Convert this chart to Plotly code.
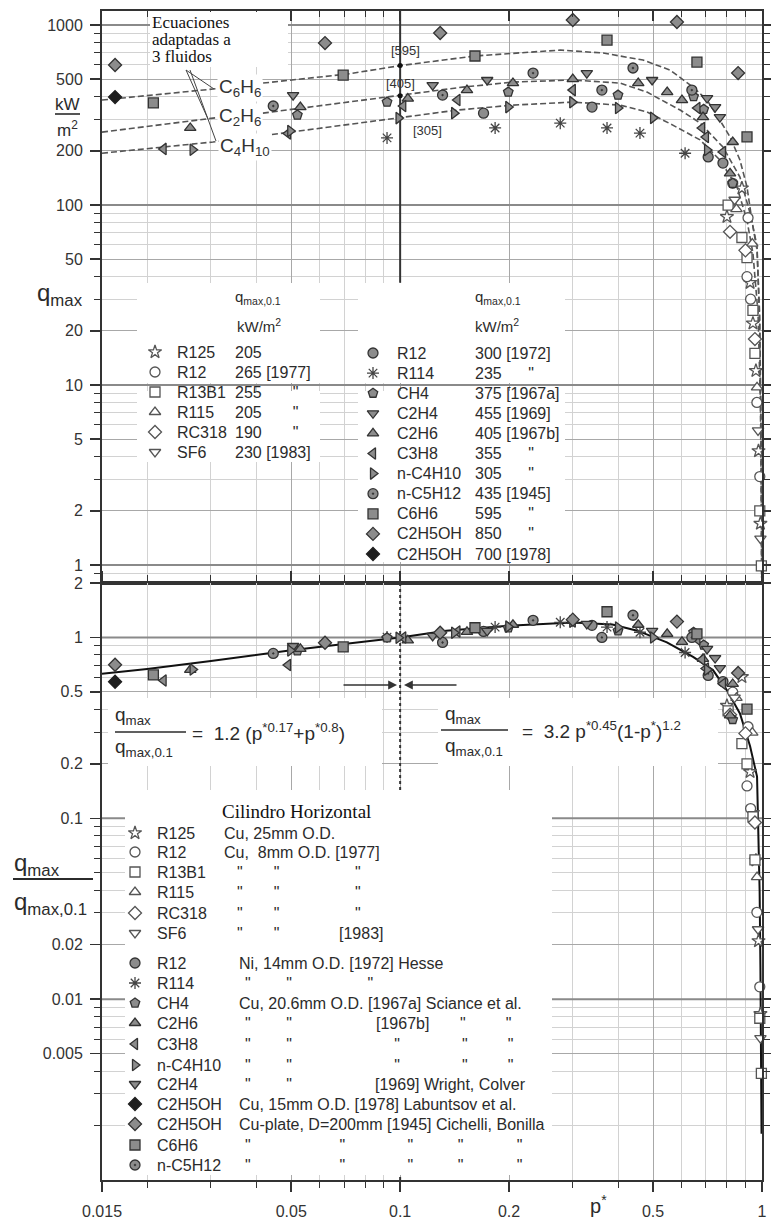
import plotly.graph_objects as go

FIG_W, FIG_H = 771, 1219
SANS = "Liberation Sans, Arial, sans-serif"
SERIF = "Liberation Serif, Times New Roman, serif"
INK = "#2b2b2b"
GRAYFILL = "#8c8c8c"

# ------------------------------------------------------------------ data
# reduced pressure p* and critical heat flux q_max (kW/m2)
P_R125 = [0.80, 0.88, 0.927, 0.944, 0.962, 0.978, 0.99]
Q_R125 = [86, 124, 37, 22, 12, 4.3, 1.7]
P_R12_77 = [0.83, 0.909, 0.915, 0.93, 0.968, 0.986]
Q_R12_77 = [132, 40, 85, 30, 8.0, 3.1]
P_R13B1 = [0.806, 0.88, 0.909, 0.944, 0.956, 0.986, 0.996]
Q_R13B1 = [100, 66, 51, 26, 15, 2.0, 0.99]
P_R115 = [0.85, 0.94, 0.969]
Q_R115 = [95, 61, 9.7]
P_RC318 = [0.816, 0.90, 0.956]
Q_RC318 = [71, 56, 18]
P_SF6 = [0.84, 0.975, 0.99]
Q_SF6 = [107, 5.6, 1.4]
P_R12_72 = [0.17, 0.339, 0.71, 0.78]
Q_R12_72 = [324, 350, 185, 171]
P_R114 = [0.092, 0.183, 0.277, 0.373, 0.46, 0.613]
Q_R114 = [236, 268, 285, 268, 251, 194]
P_CH4 = [0.052, 0.092, 0.199, 0.40, 0.647, 0.69, 0.83]
Q_CH4 = [316, 373, 424, 408, 400, 340, 132]
P_C2H4 = [0.0506, 0.123, 0.174, 0.328, 0.497, 0.705, 0.742, 0.765]
Q_C2H4 = [408, 464, 495, 541, 495, 393, 350, 308]
P_C2H6 = [0.0263, 0.053, 0.105, 0.153, 0.205, 0.30, 0.455, 0.547, 0.601, 0.687, 0.816, 0.83]
Q_C2H6 = [268, 350, 390, 435, 476, 501, 476, 424, 383, 308, 150, 224]
P_C3H8 = [0.0222, 0.049, 0.102, 0.144, 0.30, 0.663, 0.683, 0.70, 0.78]
Q_C3H8 = [205, 250, 355, 383, 435, 346, 268, 239, 197]
P_C4H10 = [0.0267, 0.0497, 0.099, 0.141, 0.199, 0.299, 0.40, 0.50, 0.705]
Q_C4H10 = [203, 258, 304, 324, 350, 373, 346, 305, 202]
P_C5H12 = [0.0446, 0.131, 0.233, 0.361, 0.44, 0.64]
Q_C5H12 = [355, 408, 541, 435, 577, 435]
P_C6H6 = [0.0208, 0.0696, 0.161, 0.373, 0.661, 0.909]
Q_C6H6 = [369, 527, 673, 825, 623, 239]
P_ETOH_45 = [0.0163, 0.062, 0.129, 0.30, 0.582, 0.859]
Q_ETOH_45 = [600, 794, 903, 1066, 1040, 541]
P_ETOH_78 = [0.0163]
Q_ETOH_78 = [398]

# q_max at p* = 0.1 (kW/m2) used for the normalised lower panel
QREF = {"R125": 205, "R12_77": 265, "R13B1": 255, "R115": 205, "RC318": 190, "SF6": 230,
        "R12_72": 300, "R114": 235, "CH4": 375, "C2H4": 455, "C2H6": 405, "C3H8": 355,
        "C4H10": 305, "C5H12": 435, "C6H6": 595, "ETOH_45": 850, "ETOH_78": 700}

# dashed equations adapted to 3 fluids (upper panel)
P_FIT_C6H6 = [0.015, 0.0304, 0.0418, 0.0714, 0.1, 0.161, 0.277, 0.364, 0.469, 0.557, 0.645,
              0.705, 0.765, 0.816, 0.869, 0.909, 0.938, 0.969, 0.985, 0.995, 0.9985]
Q_FIT_C6H6 = [383, 441, 476, 534, 595, 673, 726, 699, 639, 562, 452,
              383, 296, 239, 178, 126, 82, 56, 25, 5, 0.85]
P_FIT_C2H6 = [0.015, 0.0304, 0.0418, 0.1, 0.149, 0.205, 0.30, 0.405, 0.481, 0.594, 0.674,
              0.78, 0.869, 0.927, 0.969, 0.985, 0.995, 0.998]
Q_FIT_C2H6 = [254, 304, 324, 405, 452, 482, 495, 476, 424, 337, 286,
              210, 143, 90, 59, 22, 4, 0.85]
P_FIT_C4H10 = [0.015, 0.0304, 0.0497, 0.1, 0.144, 0.205, 0.30, 0.405, 0.481, 0.567, 0.674,
               0.765, 0.853, 0.909, 0.944, 0.975, 0.99, 0.996, 0.998]
Q_FIT_C4H10 = [194, 224, 254, 305, 337, 359, 373, 359, 329, 278, 230,
               178, 126, 82, 54, 25, 8, 2, 0.85]
P_REF = [0.1, 0.1, 0.1]
Q_REF = [595, 405, 305]
REF_LABELS = ["[595]", "[405]", "[305]"]

# generalised correlation (lower panel)
P_CORR_LOW = [0.015, 0.02, 0.03, 0.05, 0.07, 0.1]
R_CORR_LOW = [0.63, 0.67, 0.74, 0.85, 0.92, 1.0]
P_CORR_HIGH = [0.1, 0.134, 0.199, 0.30, 0.386, 0.452, 0.546, 0.645, 0.732, 0.80, 0.869,
               0.927, 0.969, 0.978, 0.985, 0.99, 0.994, 0.997]
R_CORR_HIGH = [1.0, 1.09, 1.16, 1.21, 1.18, 1.09, 0.94, 0.78, 0.66, 0.51, 0.38,
               0.25, 0.17, 0.09, 0.04, 0.015, 0.006, 0.0018]

X_TICKS = [0.015, 0.05, 0.1, 0.2, 0.5, 1]
X_TICKTEXT = ["0.015", "0.05", "0.1", "0.2", "0.5", "1"]
X_MINOR = [0.02, 0.03, 0.04, 0.06, 0.07, 0.08, 0.09, 0.3, 0.4, 0.6, 0.7, 0.8, 0.9]
Y1_TICKS = [1, 2, 5, 10, 20, 50, 100, 200, 500, 1000]
Y1_MINOR = [0.9, 3, 4, 6, 7, 8, 9, 30, 40, 60, 70, 80, 90, 300, 400, 600, 700, 800, 900]
Y1_DECADES = [1, 10, 100, 1000]
Y2_TICKS = [0.005, 0.01, 0.02, 0.1, 0.2, 0.5, 1, 2]
Y2_TICKTEXT = ["0.005", "0.01", "0.02", "0.1", "0.2", "0.5", "1", "2"]
Y2_MINOR = [0.002, 0.003, 0.004, 0.006, 0.007, 0.008, 0.009, 0.03, 0.04, 0.05, 0.06, 0.07,
            0.08, 0.09, 0.3, 0.4, 0.6, 0.7, 0.8, 0.9]
Y2_DECADES = [0.01, 0.1, 1]

# legend texts
LEG_TL_KEYS = ["R125", "R12_77", "R13B1", "R115", "RC318", "SF6"]
LEG_TL_NAMES = ["R125", "R12", "R13B1", "R115", "RC318", "SF6"]
LEG_TL_VALUES = ["205", "265 [1977]", "255", "205", "190", "230 [1983]"]
LEG_TL_DITTO = [False, False, True, True, True, False]
LEG_TR_KEYS = ["R12_72", "R114", "CH4", "C2H4", "C2H6", "C3H8", "C4H10", "C5H12", "C6H6",
               "ETOH_45", "ETOH_78"]
LEG_TR_NAMES = ["R12", "R114", "CH4", "C2H4", "C2H6", "C3H8", "n-C4H10", "n-C5H12", "C6H6",
                "C2H5OH", "C2H5OH"]
LEG_TR_VALUES = ["300 [1972]", "235", "375 [1967a]", "455 [1969]", "405 [1967b]", "355", "305",
                 "435 [1945]", "595", "850", "700 [1978]"]
LEG_TR_DITTO = [False, True, False, False, False, True, True, False, True, True, False]
LEG_B_KEYS = ["R125", "R12_77", "R13B1", "R115", "RC318", "SF6",
              "R12_72", "R114", "CH4", "C2H6", "C3H8", "C4H10", "C2H4", "ETOH_78", "ETOH_45",
              "C6H6", "C5H12"]
LEG_B_NAMES = ["R125", "R12", "R13B1", "R115", "RC318", "SF6",
               "R12", "R114", "CH4", "C2H6", "C3H8", "n-C4H10", "C2H4", "C2H5OH", "C2H5OH",
               "C6H6", "n-C5H12"]
LEG_B_TEXT = [(222, "Cu, 25mm O.D."), (222, "Cu,  8mm O.D. [1977]"), None, None, None,
              (337, "[1983]"),
              (237, "Ni, 14mm O.D. [1972] Hesse"), None,
              (237, "Cu, 20.6mm O.D. [1967a] Sciance et al."), (374, "[1967b]"), None, None,
              (373, "[1969] Wright, Colver"), (237, "Cu, 15mm O.D. [1978] Labuntsov et al."),
              (237, "Cu-plate, D=200mm [1945] Cichelli, Bonilla"), None, None]
LEG_B_DITTO = [[], [], [[235, 272, 352]], [[235, 272, 352]], [[235, 272, 352]], [[235, 272]],
               [], [[243, 285, 365]], [], [[243, 285], [458, 505]],
               [[243, 285, 392, 458, 505]], [[243, 285, 392, 458, 505]], [[243, 285]], [], [],
               [[243, 337, 407, 458, 515]], [[243, 337, 407, 458, 515]]]
NOTE_LINES = ["Ecuaciones", "adaptadas a", "3 fluidos"]

# ------------------------------------------------------------------ styles
OPEN = dict(fill="white", edge="#555555")
GRAY = dict(fill=GRAYFILL, edge="#333333")
STYLE = {
    "R125": dict(symbol="star", **OPEN), "R12_77": dict(symbol="circle", **OPEN),
    "R13B1": dict(symbol="square", **OPEN), "R115": dict(symbol="triangle-up", **OPEN),
    "RC318": dict(symbol="diamond", **OPEN), "SF6": dict(symbol="triangle-down", **OPEN),
    "R12_72": dict(symbol="circle", **GRAY), "R114": dict(symbol="asterisk-open", fill="#444", edge="#444"),
    "CH4": dict(symbol="pentagon", **GRAY), "C2H4": dict(symbol="triangle-down", **GRAY),
    "C2H6": dict(symbol="triangle-up", **GRAY), "C3H8": dict(symbol="triangle-left", **GRAY),
    "C4H10": dict(symbol="triangle-right", **GRAY), "C5H12": dict(symbol="circle-dot", **GRAY),
    "C6H6": dict(symbol="square", **GRAY), "ETOH_45": dict(symbol="diamond", **GRAY),
    "ETOH_78": dict(symbol="diamond", fill="#1e1e1e", edge="#1e1e1e"),
}
DATA = {
    "R125": (P_R125, Q_R125), "R12_77": (P_R12_77, Q_R12_77), "R13B1": (P_R13B1, Q_R13B1),
    "R115": (P_R115, Q_R115), "RC318": (P_RC318, Q_RC318), "SF6": (P_SF6, Q_SF6),
    "R12_72": (P_R12_72, Q_R12_72), "R114": (P_R114, Q_R114), "CH4": (P_CH4, Q_CH4),
    "C2H4": (P_C2H4, Q_C2H4), "C2H6": (P_C2H6, Q_C2H6), "C3H8": (P_C3H8, Q_C3H8),
    "C4H10": (P_C4H10, Q_C4H10), "C5H12": (P_C5H12, Q_C5H12), "C6H6": (P_C6H6, Q_C6H6),
    "ETOH_45": (P_ETOH_45, Q_ETOH_45), "ETOH_78": (P_ETOH_78, Q_ETOH_78),
}

fig = go.Figure()

def line_trace(x, y, xa, ya, color, width, dash=None):
    return go.Scatter(x=x, y=y, xaxis=xa, yaxis=ya, mode="lines",
                      line=dict(color=color, width=width, dash=dash),
                      hoverinfo="skip", showlegend=False, cliponaxis=False)

def hlines(values, x0, x1):
    xs, ys = [], []
    for v in values:
        xs += [x0, x1, None]
        ys += [v, v, None]
    return xs, ys

# ---- upper panel
xs, ys = hlines(Y1_DECADES, X_TICKS[0], X_TICKS[-1])
fig.add_trace(line_trace(xs, ys, "x", "y", "#8a8a8a", 2))
fig.add_trace(line_trace([0.1, 0.1], [37, 1250], "x", "y", "#333", 2))
for px, qy in [(P_FIT_C6H6, Q_FIT_C6H6), (P_FIT_C2H6, Q_FIT_C2H6), (P_FIT_C4H10, Q_FIT_C4H10)]:
    fig.add_trace(line_trace(px, qy, "x", "y", "#555", 1.6, dash="6px,3px"))
fig.add_trace(go.Scatter(x=P_REF, y=Q_REF, xaxis="x", yaxis="y", mode="markers",
                         marker=dict(size=5, color="#111"), hoverinfo="skip", showlegend=False))

# ---- lower panel
xs, ys = hlines(Y2_DECADES, X_TICKS[0], X_TICKS[-1])
fig.add_trace(line_trace(xs, ys, "x2", "y2", "#8a8a8a", 2))
fig.add_trace(line_trace([0.1, 0.1], [0.001, 2], "x2", "y2", "#333", 2, dash="dot"))
fig.add_trace(line_trace(P_CORR_LOW, R_CORR_LOW, "x2", "y2", "#111", 2))
fig.add_trace(line_trace(P_CORR_HIGH, R_CORR_HIGH, "x2", "y2", "#111", 2))

# ---- data markers in both panels
for key, (pp, qq) in DATA.items():
    st = STYLE[key]
    mk = dict(symbol=st["symbol"], size=10, color=st["fill"],
              line=dict(color=st["edge"], width=1.3))
    fig.add_trace(go.Scatter(x=pp, y=qq, xaxis="x", yaxis="y", mode="markers", marker=mk,
                             name=key, showlegend=False, cliponaxis=False))
    fig.add_trace(go.Scatter(x=pp, y=[v / QREF[key] for v in qq], xaxis="x2", yaxis="y2",
                             mode="markers", marker=mk, name=key, showlegend=False,
                             cliponaxis=False))

# ------------------------------------------------------------------ overlay (pixel coords)
shapes, annotations = [], []
NBSP = "\u00a0"
SP_W = 0.278 * 16      # width of a space at 16 px
QUOTE_W = 0.355 * 16   # width of '"' at 16 px
DIGIT_W = 0.556 * 16

def box(x0, y0, x1, y1):
    shapes.append(dict(type="rect", xref="x3", yref="y3", x0=x0, y0=y0, x1=x1, y1=y1,
                       fillcolor="white", line=dict(width=0), layer="below"))

def seg(x0, y0, x1, y1, color=INK, width=1.3):
    shapes.append(dict(type="line", xref="x3", yref="y3", x0=x0, y0=y0, x1=x1, y1=y1,
                       line=dict(color=color, width=width), layer="above"))

def text(x, y, t, size=16, xanchor="left", family=SANS, color=INK, bg=None, pad=1):
    a = dict(x=x, y=y, xref="x3", yref="y3", text=t, showarrow=False, xanchor=xanchor,
             yanchor="middle", font=dict(family=family, size=size, color=color),
             borderpad=pad)
    if bg:
        a["bgcolor"] = bg
    annotations.append(a)

def ditto_string(xs):
    s, prev = '"', xs[0]
    for x in xs[1:]:
        n = max(1, round((x - prev - QUOTE_W) / SP_W))
        s += NBSP * n + '"'
        prev = x
    return s

def value_with_ditto(value, x_value, x_ditto):
    n = max(1, round((x_ditto - x_value - DIGIT_W * len(value)) / SP_W))
    return value + NBSP * n + '"'

# white panels behind legends / formulas
box(150, 12, 288, 67)
box(137, 283, 320, 383); box(137, 391, 320, 462)
box(358, 283, 565, 383); box(358, 391, 565, 562)
box(108, 698, 382, 766); box(438, 698, 718, 766)
box(125, 790, 552, 1175)

# legend keys
def keys(xpos, ys, klist):
    fig.add_trace(go.Scatter(
        x=[xpos] * len(ys), y=ys, xaxis="x3", yaxis="y3", mode="markers",
        marker=dict(symbol=[STYLE[k]["symbol"] for k in klist], size=10,
                    color=[STYLE[k]["fill"] for k in klist],
                    line=dict(color=[STYLE[k]["edge"] for k in klist], width=1.3)),
        hoverinfo="skip", showlegend=False))

TL_Y = [352 + 20 * i for i in range(len(LEG_TL_NAMES))]
TR_Y = [353 + 20.1 * i for i in range(len(LEG_TR_NAMES))]
B_Y = [833, 852, 872, 892, 913, 933, 963, 983, 1003, 1023, 1044, 1065, 1084, 1104, 1124,
       1145, 1165]
keys(155, TL_Y, LEG_TL_KEYS)
keys(373, TR_Y, LEG_TR_KEYS)
keys(135, B_Y, LEG_B_KEYS)

# upper-left legend
text(233, 297, "q<sub>max,0.1</sub>", 15)
text(235, 325, "kW/m<sup>2</sup>", 15)
for y, n, v, d in zip(TL_Y, LEG_TL_NAMES, LEG_TL_VALUES, LEG_TL_DITTO):
    text(175, y, n)
    text(233, y, value_with_ditto(v, 233, 290) if d else v)
# upper-right legend
text(473, 297, "q<sub>max,0.1</sub>", 15)
text(473, 325, "kW/m<sup>2</sup>", 15)
for y, n, v, d in zip(TR_Y, LEG_TR_NAMES, LEG_TR_VALUES, LEG_TR_DITTO):
    text(395, y, n)
    text(473, y, value_with_ditto(v, 473, 528) if d else v)
# lower legend
text(220, 811, "Cilindro Horizontal", 19, family=SERIF, color="#111")
for y, n, t, groups in zip(B_Y, LEG_B_NAMES, LEG_B_TEXT, LEG_B_DITTO):
    text(155, y, n)
    if t:
        text(t[0], y, t[1])
    for g in groups:
        text(g[0], y, ditto_string(g))

# equation notes in the upper panel
for i, line in enumerate(NOTE_LINES):
    text(151, 22 + 17 * i, line, 17, family=SERIF, color="#111", pad=0)
seg(186, 70, 214, 89, "#444", 1)
seg(186, 70, 208, 119, "#444", 1)
seg(190, 70, 216, 141, "#444", 1)
text(240, 88, "C<sub>6</sub>H<sub>6</sub>", 19, xanchor="center", color="#333", bg="white")
text(240, 117, "C<sub>2</sub>H<sub>6</sub>", 19, xanchor="center", color="#333", bg="white")
text(245, 147, "C<sub>4</sub>H<sub>10</sub>", 19, xanchor="center", color="#333", bg="white")
for (lx, ly), lab in zip([(405, 50), (400, 83), (427, 130)], REF_LABELS):
    text(lx, ly, lab, 13, xanchor="center", color="#333")

# correlation formulas in the lower panel
text(113, 716, "q<sub>max</sub>", 19)
seg(115, 732, 186, 732, INK, 1.6)
text(113, 748, "q<sub>max,0.1</sub>", 19)
text(190, 732, "=  1.2 (p<sup>*0.17</sup>+p<sup>*0.8</sup>)", 19)
text(443, 715, "q<sub>max</sub>", 19)
seg(441, 730, 508, 730, INK, 1.6)
text(443, 747, "q<sub>max,0.1</sub>", 19)
text(520, 730, "=  3.2 p<sup>*0.45</sup>(1-p<sup>*</sup>)<sup>1.2</sup>", 19)

# arrows pointing to p* = 0.1
for tail, head in [(342, 397), (458, 404)]:
    annotations.append(dict(x=head, y=685, ax=tail, ay=685, xref="x3", yref="y3",
                            axref="x3", ayref="y3", text="", showarrow=True, arrowhead=2,
                            arrowsize=1.1, arrowwidth=1.6, arrowcolor="#333"))

# axis titles
text(35, 294, "q<sub>max</sub>", 24)
text(67, 104, "kW", 17, xanchor="center")
seg(55, 114, 80, 114, INK, 1.6)
text(67, 129, "m<sup>2</sup>", 17, xanchor="center")
text(12, 864, "q<sub>max</sub>", 24)
seg(13, 879, 93, 879, INK, 1.8)
text(12, 903, "q<sub>max,0.1</sub>", 24)
text(598, 1204, "p<sup>*</sup>", 20, xanchor="center", pad=0)

# ------------------------------------------------------------------ axes
XD = [102 / FIG_W, 762 / FIG_W]
Y1D = [1 - 583 / FIG_H, 1 - 11 / FIG_H]
Y2D = [1 - 1180 / FIG_H, 1 - 583 / FIG_H]

def log_axis(tickvals, ticktext, minor_vals, rng, domain, anchor, labels=True,
             ticks="outside", standoff=0):
    return dict(type="log", range=rng, domain=domain, anchor=anchor,
                showline=True, linecolor="#333", linewidth=2, mirror="ticks",
                ticks=ticks, ticklen=10, tickwidth=1.5, tickcolor="#333",
                tickmode="array", tickvals=tickvals, ticktext=ticktext,
                showticklabels=labels, ticklabelstandoff=standoff,
                tickfont=dict(family=SANS, size=16, color="#333"),
                showgrid=True, gridcolor="#a8a8a8", gridwidth=1, zeroline=False,
                minor=dict(tickmode="array", tickvals=minor_vals, ticks=ticks, ticklen=6,
                           tickwidth=1, tickcolor="#333", showgrid=True,
                           gridcolor="#d2d2d2", gridwidth=1),
                fixedrange=True)

fig.update_layout(
    width=FIG_W, height=FIG_H, template="none",
    margin=dict(l=0, r=0, t=0, b=0, pad=0),
    paper_bgcolor="white", plot_bgcolor="rgba(0,0,0,0)",
    showlegend=False,
    xaxis=log_axis(X_TICKS, X_TICKTEXT, X_MINOR, [-1.8239, 0], XD, "y", labels=False,
                   ticks="inside"),
    yaxis=log_axis(Y1_TICKS, [str(v) for v in Y1_TICKS], Y1_MINOR, [-0.1, 3.078], Y1D, "x",
                   standoff=4),
    xaxis2=log_axis(X_TICKS, X_TICKTEXT, X_MINOR, [-1.8239, 0], XD, "y2", standoff=6),
    yaxis2=log_axis(Y2_TICKS, Y2_TICKTEXT, Y2_MINOR, [-3, 0.301], Y2D, "x2", standoff=4),
    xaxis3=dict(domain=[0, 1], range=[0, FIG_W], anchor="y3", visible=False, fixedrange=True),
    yaxis3=dict(domain=[0, 1], range=[FIG_H, 0], anchor="x3", visible=False, fixedrange=True),
    shapes=shapes, annotations=annotations,
)

fig.write_html("out.html", config={"displayModeBar": False, "staticPlot": True})
